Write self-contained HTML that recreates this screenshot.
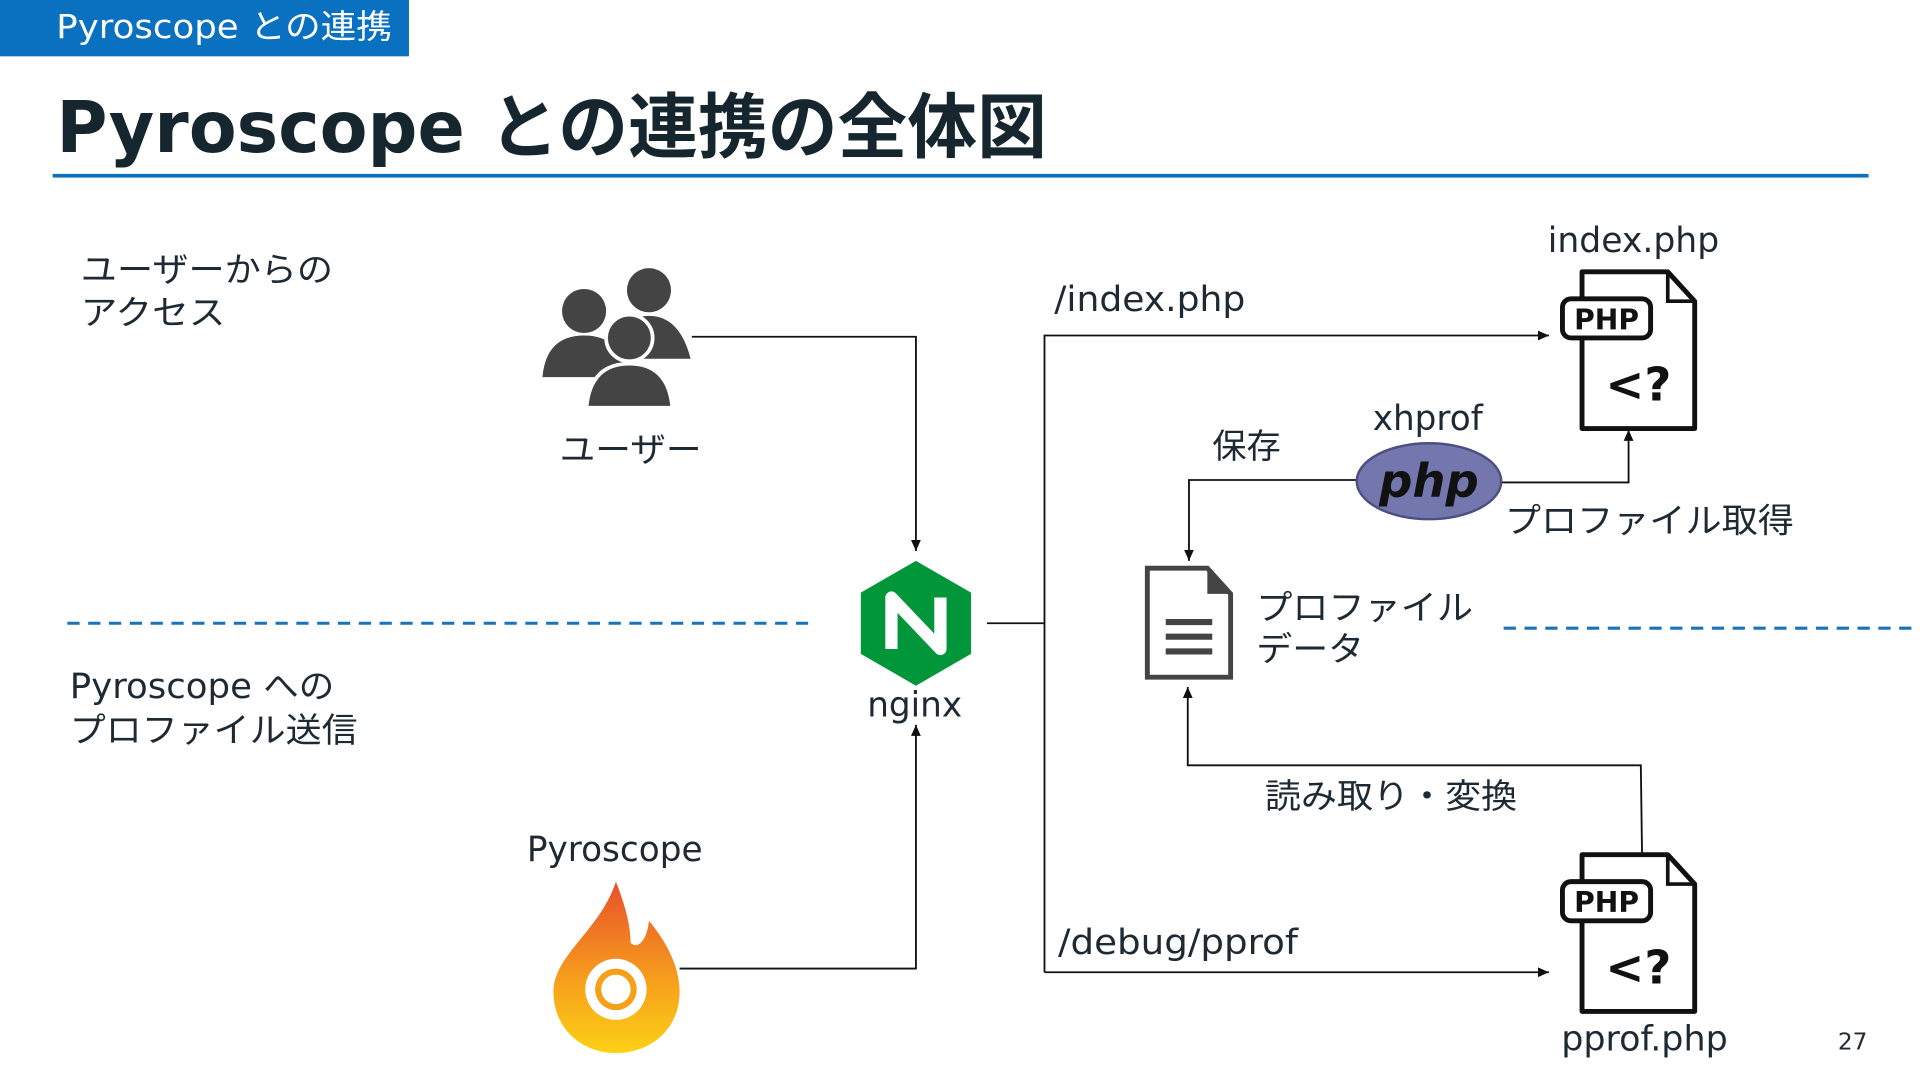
<!DOCTYPE html>
<html><head><meta charset="utf-8"><style>
html,body{margin:0;padding:0;background:#fff;overflow:hidden}
svg{display:block}
text{font-family:"DejaVu Sans","Noto Sans CJK JP",sans-serif;fill:#1e2a33}
</style></head><body>
<svg width="1920" height="1080" viewBox="0 0 1568 882" xmlns="http://www.w3.org/2000/svg">
<defs>
<marker id="a" markerWidth="10" markerHeight="10" refX="9" refY="5" orient="auto" markerUnits="userSpaceOnUse"><path d="M0,1 L9,5 L0,9 Z" fill="#111"/></marker>
<linearGradient id="fl" x1="0" y1="0" x2="0" y2="1"><stop offset="0" stop-color="#e8502a"/><stop offset="0.6" stop-color="#f7a21c"/><stop offset="1" stop-color="#fcd116"/></linearGradient>
<g id="phpf">
<path d="M0,0 H70 L92,24 V128 H0 Z" fill="#fff" stroke="#111" stroke-width="4" stroke-linejoin="round"/>
<path d="M70,0 V24 H92" fill="none" stroke="#111" stroke-width="3"/>
<rect x="-16" y="22" width="72" height="32" rx="7" fill="#fff" stroke="#111" stroke-width="4"/>
<text x="20" y="47" text-anchor="middle" font-size="23" font-weight="bold" style="fill:#111">PHP</text>
<text x="46" y="105" text-anchor="middle" font-size="38" font-weight="bold" style="fill:#111">&lt;?</text>
</g>
</defs>
<rect x="0" y="0" width="334" height="46" fill="#0a70c0"/>
<text x="46" y="31" font-size="27" textLength="274" lengthAdjust="spacingAndGlyphs" style="fill:#fff">Pyroscope との連携</text>
<text x="46" y="124" font-size="58" font-weight="bold" textLength="809" lengthAdjust="spacingAndGlyphs" style="fill:#16262e">Pyroscope との連携の全体図</text>
<rect x="43" y="142" width="1483" height="3" fill="#0a70c0"/>
<line x1="55" y1="509" x2="662" y2="509" stroke="#1a73b8" stroke-width="2.5" stroke-dasharray="10,7"/>
<line x1="1228" y1="513" x2="1568" y2="513" stroke="#1a73b8" stroke-width="2.5" stroke-dasharray="10,7"/>
<text x="66" y="230" font-size="28" textLength="206" lengthAdjust="spacingAndGlyphs">ユーザーからの</text>
<text x="66" y="265" font-size="28" textLength="118" lengthAdjust="spacingAndGlyphs">アクセス</text>
<text x="57" y="570" font-size="28" textLength="216" lengthAdjust="spacingAndGlyphs">Pyroscope への</text>
<text x="57" y="606" font-size="28" textLength="235" lengthAdjust="spacingAndGlyphs">プロファイル送信</text>
<g fill="#444">
<circle cx="530" cy="237" r="18"/><path d="M500,293 Q505,258 530,258 Q555,258 564,293 Z"/>
<circle cx="477" cy="254" r="18"/><path d="M443,308 Q446,274 477,274 Q508,274 512,308 Z"/>
<circle cx="514" cy="276" r="19" stroke="#fff" stroke-width="3"/><path d="M479,333 Q482,297 514,297 Q546,297 549,333 Z" stroke="#fff" stroke-width="3"/>
</g>
<text x="515" y="377" font-size="28" text-anchor="middle" textLength="116" lengthAdjust="spacingAndGlyphs">ユーザー</text>
<text x="502" y="703" font-size="28" text-anchor="middle">Pyroscope</text>
<path d="M503,720 C490,760 452,780 452,810 C452,840 475,860 503,860 C532,860 555,840 555,810 C555,790 545,770 530,752 C528,770 520,775 515,770 C515,755 510,738 503,720 Z" fill="url(#fl)"/>
<circle cx="503" cy="808" r="25" fill="#fff"/><circle cx="503" cy="808" r="17" fill="#f5a01a"/><circle cx="503" cy="808" r="12" fill="#fff"/>
<polygon points="748,458 793,484 793,534 748,560 703,534 703,484" fill="#009639"/>
<path d="M728,530 V488 L768,530 V488" fill="none" stroke="#fff" stroke-width="10" stroke-linejoin="round"/>
<text x="747" y="585" font-size="28" text-anchor="middle">nginx</text>
<g fill="none" stroke="#111" stroke-width="1.5">
<path d="M565,275 H748 V450" marker-end="url(#a)"/>
<path d="M555,791 H748 V592" marker-end="url(#a)"/>
<path d="M806,509 H853"/>
<path d="M853,794 V274 H1265" marker-end="url(#a)"/>
<path d="M853,794 H1265" marker-end="url(#a)"/>
<path d="M1108,392 H971 V458" marker-end="url(#a)"/>
<path d="M1226,394 H1330 V351" marker-end="url(#a)"/>
<path d="M1341,697 L1340,625 H970 V561" marker-end="url(#a)"/>
</g>
<text x="861" y="254" font-size="28" textLength="156" lengthAdjust="spacingAndGlyphs">/index.php</text>
<text x="864" y="779" font-size="28" textLength="196" lengthAdjust="spacingAndGlyphs">/debug/pprof</text>
<text x="1334" y="206" font-size="28" text-anchor="middle" textLength="140" lengthAdjust="spacingAndGlyphs">index.php</text>
<text x="1343" y="858" font-size="28" text-anchor="middle" textLength="136" lengthAdjust="spacingAndGlyphs">pprof.php</text>
<use href="#phpf" x="1292" y="222"/>
<use href="#phpf" x="1292" y="698"/>
<text x="1166" y="351" font-size="28" text-anchor="middle">xhprof</text>
<ellipse cx="1167" cy="393" rx="59" ry="31" fill="#7377ad" stroke="#4c4f80" stroke-width="2"/>
<text x="1167" y="406" font-size="38" font-weight="bold" font-style="italic" text-anchor="middle" style="fill:#111">php</text>
<text x="990" y="374" font-size="28">保存</text>
<text x="1229" y="435" font-size="28" textLength="236" lengthAdjust="spacingAndGlyphs">プロファイル取得</text>
<path d="M937,464 H986 L1005,485 V553 H937 Z" fill="#fff" stroke="#444" stroke-width="4"/>
<path d="M986,464 V485 H1005 Z" fill="#444"/>
<g stroke="#444" stroke-width="5"><line x1="952" y1="508" x2="990" y2="508"/><line x1="952" y1="520" x2="990" y2="520"/><line x1="952" y1="532" x2="990" y2="532"/></g>
<text x="1026" y="506" font-size="28" textLength="177" lengthAdjust="spacingAndGlyphs">プロファイル</text>
<text x="1026" y="540" font-size="28" textLength="88" lengthAdjust="spacingAndGlyphs">データ</text>
<text x="1033" y="660" font-size="28" textLength="206" lengthAdjust="spacingAndGlyphs">読み取り・変換</text>
<text x="1513" y="857" font-size="19" text-anchor="middle">27</text>
</svg>
</body></html>
